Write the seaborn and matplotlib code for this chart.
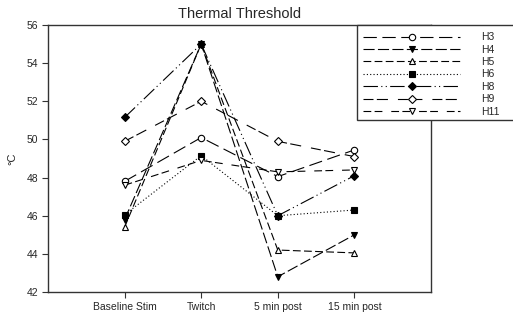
import matplotlib
matplotlib.use("Agg")
import matplotlib.pyplot as plt
from matplotlib.patches import Rectangle
import seaborn as sns
import pandas as pd

categories = ["Baseline Stim", "Twitch", "5 min post", "15 min post"]
series_names = ["H3", "H4", "H5", "H6", "H8", "H9", "H11"]
H3 = [47.8, 50.1, 48.05, 49.45]
H4 = [45.8, 55.0, 42.8, 45.0]
H5 = [45.4, 55.0, 44.2, 44.05]
H6 = [46.05, 49.15, 46.0, 46.3]
H8 = [51.15, 55.0, 46.0, 48.1]
H9 = [49.9, 52.0, 49.9, 49.1]
H11 = [47.6, 48.9, 48.3, 48.4]
values = [H3, H4, H5, H6, H8, H9, H11]
yticks = [42, 44, 46, 48, 50, 52, 54, 56]

styles = {
    "H3": dict(marker="o", mfc="white", ls=(0, (12, 5))),
    "H4": dict(marker="v", mfc="black", ls=(0, (10, 3))),
    "H5": dict(marker="^", mfc="white", ls=(0, (7, 3))),
    "H6": dict(marker="s", mfc="black", ls=(0, (1, 2))),
    "H8": dict(marker="D", mfc="black", ls=(0, (13, 3, 1, 3, 1, 3))),
    "H9": dict(marker="D", mfc="white", ls=(0, (9, 3, 10, 9))),
    "H11": dict(marker="v", mfc="white", ls=(0, (7, 3, 7, 8))),
}
msizes = {"o": 4.6, "v": 4.6, "^": 4.6, "s": 3.9, "D": 3.9}

sns.set_style("ticks")
plt.rcParams["font.family"] = ["Liberation Sans", "DejaVu Sans"]

fig = plt.figure(figsize=(5.13, 3.17), dpi=100)
ax = fig.add_axes([48 / 513, 1 - 292 / 317, (431 - 48) / 513, (292 - 25) / 317])

for name, vals in zip(series_names, values):
    df = pd.DataFrame({"x": categories, "y": vals})
    st = styles[name]
    sns.lineplot(data=df, x="x", y="y", ax=ax, color="black", sort=False,
                 errorbar=None, label=name, linewidth=0.8,
                 linestyle=st["ls"], marker=st["marker"],
                 markersize=msizes[st["marker"]],
                 markerfacecolor=st["mfc"], markeredgecolor="black",
                 markeredgewidth=0.8)

ax.set_xlim(-1, 4)
ax.set_ylim(42, 56)
ax.set_yticks(yticks)
ax.set_xticks(range(len(categories)))
ax.set_xticklabels(categories)
ax.tick_params(axis="both", labelsize=7.5, length=4, width=0.8, color="#333333",
               direction="out", pad=3)
ax.tick_params(axis="x", pad=3.5)
for s in ax.spines.values():
    s.set_visible(True)
    s.set_linewidth(1.0)
    s.set_color("#333333")
ax.set_xlabel("")
ax.set_ylabel("°C", fontsize=8, labelpad=7)
ax.set_title("Thermal Threshold", fontsize=10.5, pad=5)

# legend frame box (extends past the right edge like the reference)
frame = Rectangle((357 / 513, 1 - 120 / 317), (520 - 357) / 513, (120 - 25) / 317,
                  transform=fig.transFigure, facecolor="white", edgecolor="#333333",
                  linewidth=1.0, clip_on=False, zorder=9)
ax.add_patch(frame)

leg = ax.legend(loc="upper left", bbox_to_anchor=(357 / 513, 1 - 26 / 317),
                bbox_transform=fig.transFigure, borderaxespad=0,
                fontsize=7.5, handlelength=9.3, handletextpad=2.0,
                labelspacing=0.23, borderpad=0.6, frameon=False)
leg.set_zorder(10)

fig.savefig("out.png", dpi=100)
